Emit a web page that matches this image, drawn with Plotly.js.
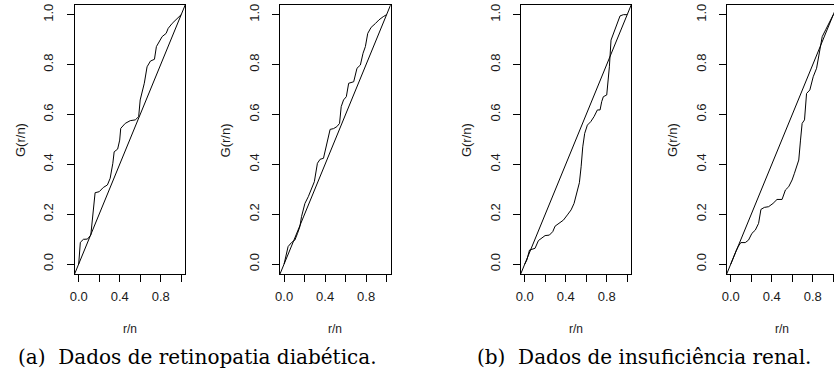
<!DOCTYPE html>
<html>
<head>
<meta charset="utf-8">
<script src="https://cdn.plot.ly/plotly-3.0.1.min.js"></script>
<style>html,body{margin:0;padding:0;overflow:hidden;background:#fff;}#chart{width:840px;height:385px;}</style>
</head>
<body>
<div id="chart"></div>
<script>
// TTT plot data
const retinoA_x = [0, 0.016, 0.046, 0.085, 0.118, 0.16, 0.2, 0.24, 0.28, 0.307, 0.333, 0.346, 0.38, 0.40, 0.41, 0.454, 0.503, 0.552, 0.585, 0.60, 0.64, 0.667, 0.70, 0.739, 0.758, 0.79, 0.814, 0.853, 0.873, 0.912, 0.954, 0.993, 1.0];
const retinoA_y = [0, 0.087, 0.099, 0.10, 0.116, 0.286, 0.29, 0.307, 0.317, 0.344, 0.404, 0.45, 0.461, 0.497, 0.544, 0.564, 0.575, 0.578, 0.591, 0.658, 0.725, 0.791, 0.814, 0.821, 0.872, 0.892, 0.912, 0.925, 0.945, 0.965, 0.981, 0.999, 1.0];

const retinoB_x = [0, 0.016, 0.039, 0.072, 0.105, 0.131, 0.154, 0.17, 0.203, 0.236, 0.262, 0.295, 0.325, 0.351, 0.384, 0.41, 0.449, 0.482, 0.515, 0.541, 0.557, 0.58, 0.607, 0.63, 0.679, 0.711, 0.744, 0.77, 0.793, 0.816, 0.849, 0.892, 0.925, 0.967, 1.0];
const retinoB_y = [0, 0.029, 0.07, 0.086, 0.096, 0.123, 0.15, 0.19, 0.243, 0.27, 0.297, 0.33, 0.404, 0.42, 0.424, 0.47, 0.54, 0.543, 0.551, 0.564, 0.631, 0.658, 0.671, 0.725, 0.731, 0.785, 0.798, 0.845, 0.872, 0.925, 0.949, 0.965, 0.979, 0.992, 1.0];

const renalA_x = [0, 0.02, 0.046, 0.068, 0.1, 0.133, 0.166, 0.198, 0.24, 0.273, 0.296, 0.338, 0.377, 0.416, 0.452, 0.481, 0.507, 0.533, 0.55, 0.566, 0.585, 0.611, 0.644, 0.676, 0.709, 0.735, 0.751, 0.767, 0.8, 0.826, 0.842, 0.872, 0.898, 0.93, 0.963, 1.0];
const renalA_y = [0, 0.016, 0.056, 0.059, 0.063, 0.094, 0.103, 0.114, 0.116, 0.13, 0.152, 0.163, 0.176, 0.197, 0.217, 0.243, 0.283, 0.326, 0.39, 0.47, 0.524, 0.557, 0.571, 0.591, 0.618, 0.618, 0.651, 0.671, 0.678, 0.791, 0.898, 0.932, 0.959, 0.995, 1.0, 1.0];

const renalB_x = [0, 0.026, 0.052, 0.075, 0.098, 0.141, 0.173, 0.206, 0.239, 0.271, 0.294, 0.327, 0.369, 0.412, 0.451, 0.5, 0.533, 0.565, 0.598, 0.621, 0.647, 0.663, 0.68, 0.696, 0.719, 0.739, 0.771, 0.804, 0.837, 0.869, 0.892, 0.925, 0.958, 1.0];
const renalB_y = [0, 0.029, 0.053, 0.072, 0.086, 0.086, 0.096, 0.123, 0.136, 0.163, 0.219, 0.227, 0.23, 0.243, 0.259, 0.259, 0.297, 0.31, 0.337, 0.364, 0.404, 0.417, 0.497, 0.564, 0.578, 0.684, 0.698, 0.751, 0.785, 0.858, 0.912, 0.939, 0.965, 1.0];

const diag = [-0.04, 1.04];
const xTickVals = [0, 0.2, 0.4, 0.6, 0.8, 1.0];
const xTickText = ['0.0', '', '0.4', '', '0.8', ''];
const yTickVals = [0, 0.2, 0.4, 0.6, 0.8, 1.0];
const yTickText = ['0.0', '0.2', '0.4', '0.6', '0.8', '1.0'];
const xTitle = 'r/n';
const yTitle = 'G(r/n)';
const captionA = '(a)  Dados de retinopatia diabética.';
const captionB = '(b)  Dados de insuficiência renal.';

const W = 840, H = 385;
const panelsPx = [[74.6, 185.3], [280, 390.7], [520.7, 631.3], [726.7, 837.4]];
const yPx = [4.7, 274];
const series = [[retinoA_x, retinoA_y], [retinoB_x, retinoB_y], [renalA_x, renalA_y], [renalB_x, renalB_y]];

const data = [];
const layout = {
  width: W, height: H,
  margin: {l: 0, r: 0, t: 0, b: 0},
  paper_bgcolor: '#fff', plot_bgcolor: '#fff',
  showlegend: false,
  font: {family: 'Liberation Sans, Arial, sans-serif', size: 13, color: '#000'},
  annotations: []
};
const lineStyle = {color: '#000', width: 1};

series.forEach((s, i) => {
  const n = i === 0 ? '' : String(i + 1);
  const xa = 'x' + n, ya = 'y' + n;
  data.push({x: s[0], y: s[1], type: 'scatter', mode: 'lines', line: lineStyle, xaxis: xa, yaxis: ya, hoverinfo: 'skip'});
  data.push({x: diag, y: diag, type: 'scatter', mode: 'lines', line: lineStyle, xaxis: xa, yaxis: ya, hoverinfo: 'skip'});
  const common = {range: [-0.04, 1.04], showgrid: false, zeroline: false, showline: true, mirror: true,
    linecolor: '#000', linewidth: 1, ticks: 'outside', ticklen: 7, tickwidth: 1, tickcolor: '#000',
    tickfont: {size: 13, color: '#1a1a1a'}, fixedrange: true};
  layout['xaxis' + n] = Object.assign({}, common, {
    domain: [panelsPx[i][0] / W, panelsPx[i][1] / W], anchor: ya,
    tickmode: 'array', tickvals: xTickVals, ticktext: xTickText, ticklabelstandoff: 3
  });
  layout['yaxis' + n] = Object.assign({}, common, {
    domain: [1 - yPx[1] / H, 1 - yPx[0] / H], anchor: xa,
    tickmode: 'array', tickvals: yTickVals, ticktext: yTickText, tickangle: -90, ticklabelstandoff: 8
  });
  const w = panelsPx[i][1] - panelsPx[i][0];
  layout.annotations.push({xref: 'paper', yref: 'paper', x: (panelsPx[i][0] + 0.54 / 1.08 * w) / W,
    y: 1 - 329 / H, text: xTitle, showarrow: false, xanchor: 'center', yanchor: 'middle', font: {size: 12, color: '#1a1a1a'}});
  layout.annotations.push({xref: 'paper', yref: 'paper', x: (panelsPx[i][0] - 54.6) / W, y: 1 - 140 / H,
    text: yTitle, showarrow: false, textangle: -90, xanchor: 'center', yanchor: 'middle', font: {size: 13, color: '#1a1a1a'}});
});

layout.annotations.push({xref: 'paper', yref: 'paper', x: 16 / W, y: 1 - 357 / H, text: captionA, showarrow: false,
  xanchor: 'left', yanchor: 'middle', font: {family: 'DejaVu Serif, serif', size: 20, color: '#000'}});
layout.annotations.push({xref: 'paper', yref: 'paper', x: 475 / W, y: 1 - 357 / H, text: captionB, showarrow: false,
  xanchor: 'left', yanchor: 'middle', font: {family: 'DejaVu Serif, serif', size: 20, color: '#000'}});

Plotly.newPlot('chart', data, layout, {staticPlot: true, displayModeBar: false});
</script>
</body>
</html>
